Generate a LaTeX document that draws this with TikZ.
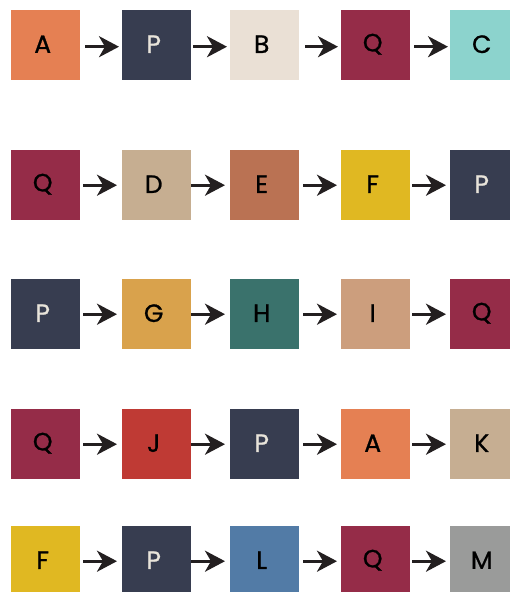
\documentclass[tikz,border=0pt]{standalone}
\usepackage{fontspec}
\setmainfont{Poppins}
\usetikzlibrary{arrows.meta}
\definecolor{cA}{HTML}{E58053}
\definecolor{cP}{HTML}{373D50}
\definecolor{cB}{HTML}{EAE0D5}
\definecolor{cQ}{HTML}{952C48}
\definecolor{cC}{HTML}{8CD3CD}
\definecolor{cD}{HTML}{C6AE91}
\definecolor{cE}{HTML}{BA7253}
\definecolor{cF}{HTML}{E0B822}
\definecolor{cG}{HTML}{D9A24C}
\definecolor{cH}{HTML}{3A726C}
\definecolor{cI}{HTML}{CC9E7D}
\definecolor{cJ}{HTML}{BF3A34}
\definecolor{cK}{HTML}{C6AE92}
\definecolor{cL}{HTML}{527BA6}
\definecolor{cM}{HTML}{9A9B9A}
\definecolor{lightTxt}{HTML}{E8E4DA}
\definecolor{arrowc}{HTML}{231F20}
\begin{document}
\begin{tikzpicture}[x=1pt,y=-1pt,
  box/.style={rectangle, minimum width=69pt, minimum height=70pt, inner sep=0pt,
    anchor=north west, fill=c#1,
    label={[lbl, lbl#1/.try]center:#1}},
  lbl/.style={font=\fontsize{25}{25}\selectfont\addfontfeatures{FakeBold=1}, text=black, xshift=-3pt, yshift=1pt, inner sep=0pt},
  lblP/.style={text=lightTxt},
  arr/.style={line width=3pt, draw=arrowc, -{Stealth[length=20pt,width=21pt,inset=6pt]}}]
\useasboundingbox (0,0) rectangle (510,592);
% columns: 11,122,230,341,450 ; rows: 10,150,279,409,526
\foreach \r/\y/\a/\b/\c/\d/\e in {1/10/A/P/B/Q/C, 2/150/Q/D/E/F/P, 3/279/P/G/H/I/Q, 4/409/Q/J/P/A/K, 5/526/F/P/L/Q/M}{
  \node[box=\a] (n\r1) at (11,\y) {};
  \node[box=\b] (n\r2) at (122,\y) {};
  \node[box=\c] (n\r3) at (230,\y) {};
  \node[box=\d] (n\r4) at (341,\y) {};
  \node[box=\e] (n\r5) at (450,\y) {};
}
% row 1 arrows
\begin{scope}[transform canvas={yshift=-1.5pt}]
\draw[arr, shorten <=5pt, shorten >=3pt] (n11.east) -- (n12.west);
\draw[arr, shorten <=2pt, shorten >=3pt] (n12.east) -- (n13.west);
\draw[arr, shorten <=6pt, shorten >=3pt] (n13.east) -- (n14.west);
\draw[arr, shorten <=4pt, shorten >=2pt] (n14.east) -- (n15.west);
\end{scope}
\foreach \r in {2,3,4,5}{
  \draw[arr, shorten <=3pt, shorten >=5pt] (n\r1.east) -- (n\r2.west);
  \draw[arr, shorten <=0pt, shorten >=5pt] (n\r2.east) -- (n\r3.west);
  \draw[arr, shorten <=4pt, shorten >=4pt] (n\r3.east) -- (n\r4.west);
  \draw[arr, shorten <=2pt, shorten >=4pt] (n\r4.east) -- (n\r5.west);
}
\end{tikzpicture}
\end{document}
